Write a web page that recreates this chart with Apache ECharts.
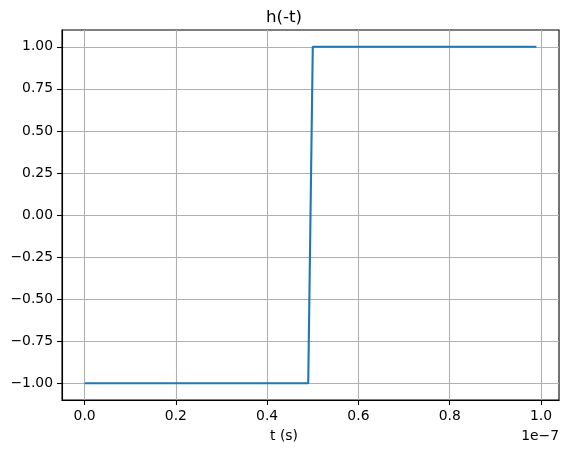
<!DOCTYPE html>
<html><head><meta charset="utf-8">
<script src="https://cdn.jsdelivr.net/npm/echarts@6/dist/echarts.min.js"></script>
<style>html,body{margin:0;padding:0;background:#fff}#c{width:568px;height:453px}</style>
</head><body><div id="c"></div>
<script>
// Data: time (seconds) and h(-t) values at the step breakpoints
const tValues = [0, 4.9e-8, 5.0e-8, 9.9e-8];
const hValues = [-1, -1, 1, 1];
const xTicks = [0, 2e-8, 4e-8, 6e-8, 8e-8, 1e-7];
const yTicks = [-1.0, -0.75, -0.5, -0.25, 0, 0.25, 0.5, 0.75, 1.0];
const titleText = 'h(-t)';
const xLabel = 't (s)';
const xOffsetText = '1e\u22127';

const font = 'DejaVu Sans';
const chart = echarts.init(document.getElementById('c'), null, {renderer: 'canvas'});
const L = 62, T = 30, R = 9, B = 53;
chart.setOption({
  animation: false,
  title: {text: titleText, left: 'center', top: 4, textStyle: {fontFamily: font, fontSize: 16.7, fontWeight: 'normal', color: '#000'}, itemGap: 0},
  grid: {left: L, top: T, right: R, bottom: B, show: true, borderColor: '#000', borderWidth: 1.1, backgroundColor: 'transparent', containLabel: false},
  xAxis: {
    type: 'value', min: -0.0495e-7, max: 1.0395e-7, interval: 2e-8,
    axisLine: {show: true, onZero: false, lineStyle: {color: '#000', width: 1.1}},
    axisTick: {show: true, inside: false, length: 5, lineStyle: {color: '#000', width: 1.1}, customValues: xTicks},
    axisLabel: {show: true, margin: 9, fontFamily: font, fontSize: 13.9, color: '#000', customValues: xTicks,
      formatter: v => (v / 1e-7).toFixed(1)},
    splitLine: {show: true, lineStyle: {color: '#b0b0b0', width: 1.1}}
  },
  yAxis: {
    type: 'value', min: -1.1, max: 1.1, interval: 0.25,
    axisLine: {show: true, onZero: false, lineStyle: {color: '#000', width: 1.1}},
    axisTick: {show: true, inside: false, length: 5, lineStyle: {color: '#000', width: 1.1}, customValues: yTicks},
    axisLabel: {show: true, margin: 9, fontFamily: font, fontSize: 13.9, color: '#000', customValues: yTicks,
      formatter: v => v.toFixed(2).replace('-', '\u2212')},
    splitLine: {show: true, lineStyle: {color: '#b0b0b0', width: 1.1}}
  },
  series: [{
    type: 'line', data: tValues.map((t, i) => [t, hValues[i]]), showSymbol: false, symbol: 'none',
    lineStyle: {color: '#1f77b4', width: 2.1}, z: 3
  }],
  graphic: [
    {type: 'text', left: 'center', top: 429, style: {text: xLabel, font: '13.9px "DejaVu Sans"', fill: '#000'}},
    {type: 'text', right: 9, top: 429, style: {text: xOffsetText, font: '13.9px "DejaVu Sans"', fill: '#000'}}
  ]
});
</script></body></html>
